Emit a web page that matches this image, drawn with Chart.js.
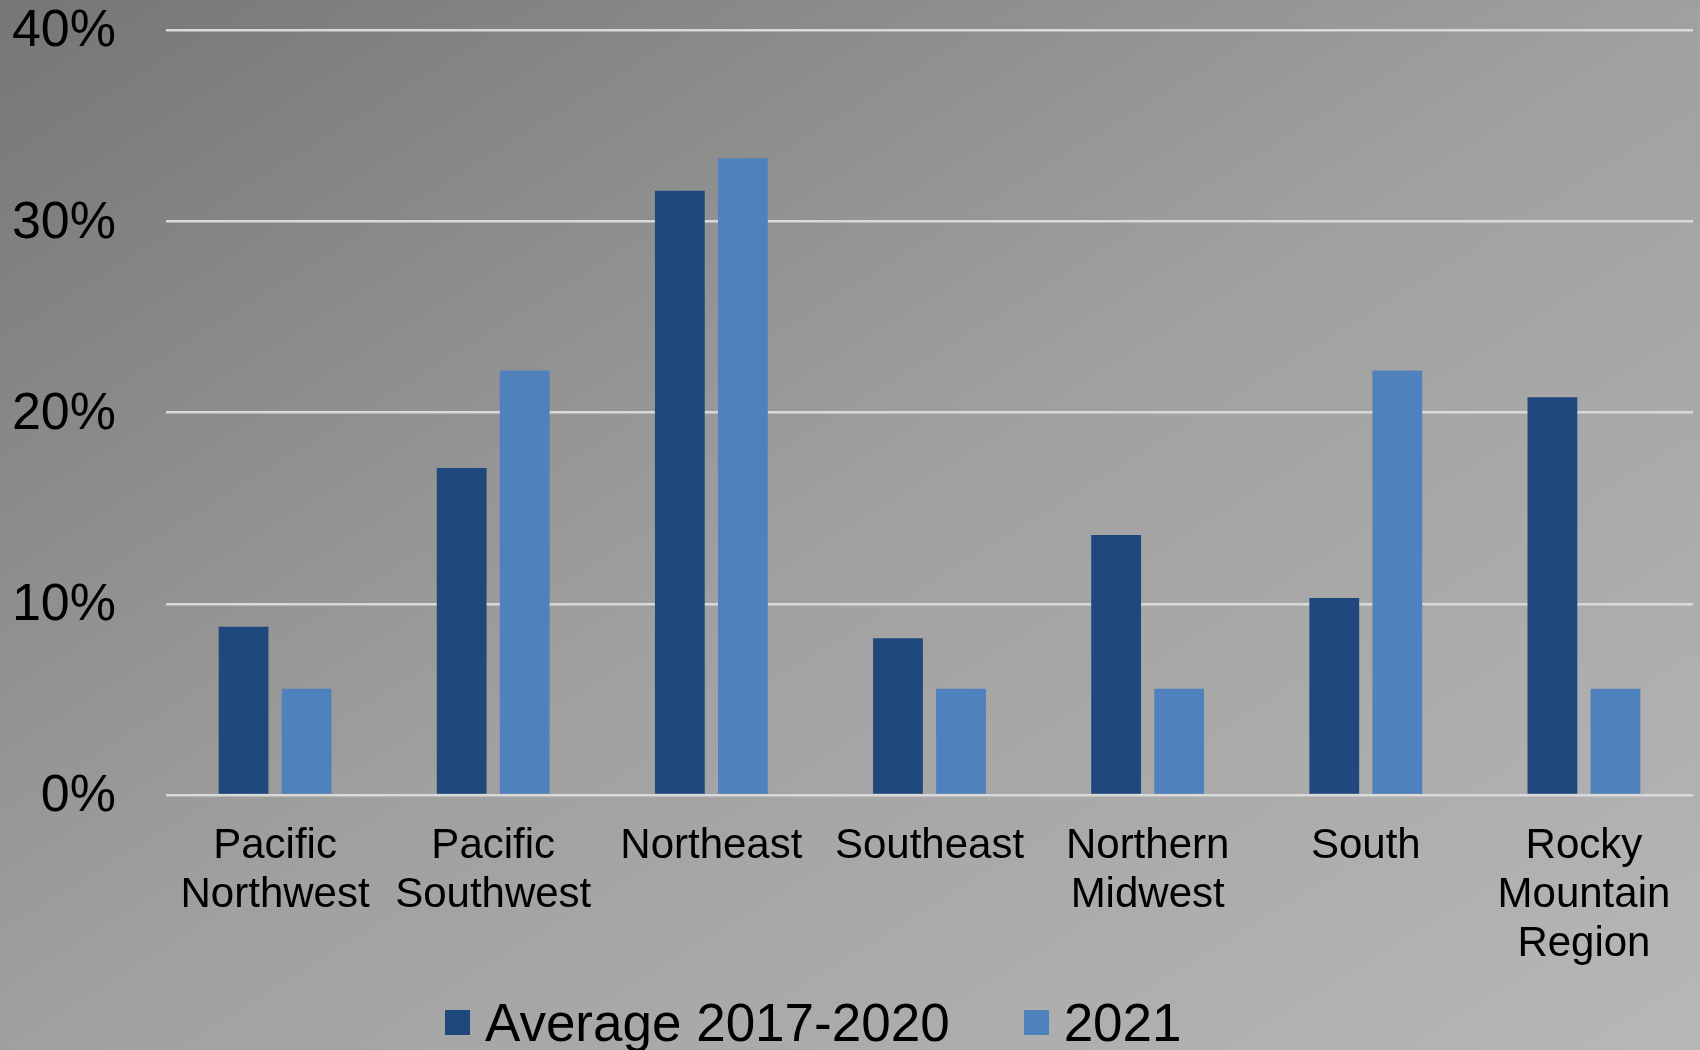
<!DOCTYPE html>
<html>
<head>
<meta charset="utf-8">
<script src="https://cdn.jsdelivr.net/npm/chart.js@4"></script>
<style>
  html, body { margin: 0; padding: 0; overflow: hidden; }
  body {
    width: 1700px; height: 1050px;
    background: linear-gradient(to bottom right, #767676 0%, #a0a0a0 50%, #b7b7b7 100%);
    font-family: 'Liberation Sans', Arial, sans-serif;
  }
  #wrap { position: relative; width: 1700px; height: 1050px; }
  #legend {
    position: absolute; left: 445px; top: 996px;
    display: flex; align-items: center;
    font-size: 53px; line-height: 53px; color: #000; white-space: nowrap;
  }
  #legend .item { display: flex; align-items: center; }
  #legend .item + .item { margin-left: 74px; }
  #legend .box { width: 25px; height: 25px; margin-right: 15px; }
</style>
</head>
<body>
<div id="wrap">
  <canvas id="chart"></canvas>
  <div id="legend"></div>
</div>
<script>
// Data (percent)
const regions = [
  ["Pacific", "Northwest"],
  ["Pacific", "Southwest"],
  "Northeast",
  "Southeast",
  ["Northern", "Midwest"],
  "South",
  ["Rocky", "Mountain", "Region"]
];
const avg2017to2020 = [8.8, 17.1, 31.6, 8.2, 13.6, 10.3, 20.8];
const values2021 = [5.56, 22.2, 33.3, 5.56, 5.56, 22.2, 5.56];
const yTicks = [0, 10, 20, 30, 40];

Chart.defaults.font.family = "'Liberation Sans', Arial, sans-serif";
Chart.defaults.color = "#000";

// html legend built from the datasets
const htmlLegend = {
  id: "htmlLegend",
  afterUpdate(chart) {
    const el = document.getElementById("legend");
    el.innerHTML = "";
    chart.data.datasets.forEach(ds => {
      const item = document.createElement("div");
      item.className = "item";
      item.innerHTML = `<span class="box" style="background:${ds.backgroundColor}"></span><span>${ds.label}</span>`;
      el.appendChild(item);
    });
  }
};

new Chart(document.getElementById("chart"), {
  type: "bar",
  data: {
    labels: regions,
    datasets: [
      { label: "Average 2017-2020", data: avg2017to2020, backgroundColor: "#1f497d" },
      { label: "2021", data: values2021, backgroundColor: "#4f81bd" }
    ]
  },
  plugins: [htmlLegend],
  options: {
    responsive: true,
    maintainAspectRatio: false,
    animation: false,
    devicePixelRatio: 1,
    layout: { padding: { top: 0, right: 7, bottom: 0, left: 0 } },
    datasets: { bar: { categoryPercentage: 0.578, barPercentage: 0.79 } },
    plugins: {
      tooltip: { enabled: false },
      legend: { display: false }
    },
    scales: {
      x: {
        grid: { display: false, drawTicks: false },
        border: { display: false },
        ticks: { font: { size: 42, lineHeight: 1.17 }, padding: 27, maxRotation: 0, autoSkip: false },
        afterFit: s => { s.height = 255; s.paddingLeft = 0; s.paddingRight = 0; }
      },
      y: {
        min: 0,
        max: 40,
        afterBuildTicks: s => { s.ticks = yTicks.map(v => ({ value: v })); },
        grid: { color: "#d9d9d9", lineWidth: 2.5, drawTicks: false },
        border: { display: false },
        ticks: { font: { size: 52 }, padding: 50, labelOffset: 2, callback: v => v + "%" },
        afterFit: s => { s.width = 166; s.paddingTop = 30; s.paddingBottom = 0; }
      }
    }
  }
});
</script>
</body>
</html>
